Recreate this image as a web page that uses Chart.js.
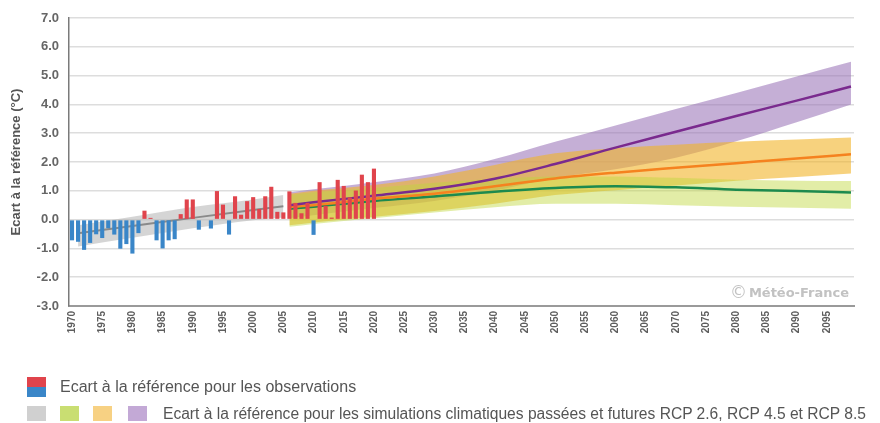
<!DOCTYPE html>
<html lang="fr">
<head>
<meta charset="utf-8">
<title>Ecart à la référence</title>
<script src="https://cdn.jsdelivr.net/npm/chart.js@4.4.1/dist/chart.umd.min.js"></script>
<style>
  html, body { margin: 0; padding: 0; background: #fff; }
  #cadre { position: relative; width: 880px; height: 423px; overflow: hidden; }
  #graphe { position: absolute; left: 0; top: 0; }
  .ligne-leg { position: absolute; left: 0; height: 20px; font-family: 'Liberation Sans', Arial, sans-serif; font-size: 16px; color: #555; white-space: nowrap; }
  .carre { position: absolute; width: 19px; height: 15px; }
  .texte-leg { position: absolute; top: 0; line-height: 20px; }
</style>
</head>
<body>
<div id="cadre">
  <canvas id="graphe" width="880" height="423"></canvas>

  <div class="ligne-leg" style="top:377px;">
    <div class="carre" style="left:27px; top:0; height:10px; background:#e0444c;"></div>
    <div class="carre" style="left:27px; top:10px; height:10px; background:#3a86c8;"></div>
    <div class="texte-leg" style="left:60px;">Ecart à la référence pour les observations</div>
  </div>
  <div class="ligne-leg" style="top:404px; font-size:15.6px;">
    <div class="carre" style="left:27px; top:2px; background:#d0d0d0;"></div>
    <div class="carre" style="left:60px; top:2px; background:#c9de72;"></div>
    <div class="carre" style="left:93px; top:2px; background:#f7d183;"></div>
    <div class="carre" style="left:128px; top:2px; background:#c3a9d6;"></div>
    <div class="texte-leg" style="left:163px;">Ecart à la référence pour les simulations climatiques passées et futures RCP 2.6, RCP 4.5 et RCP 8.5</div>
  </div>
</div>

<script>
// axe des années : 1970 -> 2099
const annees = [];
for (let a = 1970; a <= 2099; a++) annees.push(a);

// observations 1970-2020 (écart en °C)
const ecartObs = [
  -0.72, -0.77, -1.05, -0.81, -0.51, -0.64, -0.30, -0.52, -1.01, -0.85,
  -1.18, -0.47,  0.31,  0.06, -0.72, -1.00, -0.72, -0.68,  0.19,  0.70,
   0.70, -0.35,  0.00, -0.31,  0.99,  0.52, -0.52,  0.81,  0.17,  0.64,
   0.78,  0.37,  0.81,  1.14,  0.27,  0.25,  0.98,  0.58,  0.22,  0.58,
  -0.53,  1.30,  0.48,  0.07,  1.38,  1.17,  0.77,  1.01,  1.56,  1.30,
   1.77
];

// simulations passées (enveloppe grise)
const anneesHist = [1971, 1980, 1990, 2000, 2005];
const histMed  = [-0.47, -0.22, 0.06, 0.33, 0.46];
const histHaut = [-0.20,  0.10, 0.44, 0.70, 0.85];
const histBas  = [-0.93, -0.63, -0.30, -0.02, 0.07];

// simulations futures
const anneesSim = [2006, 2010, 2020, 2030, 2040, 2050, 2060, 2070, 2080, 2090, 2099];
const rcp26Med  = [0.38, 0.45, 0.65, 0.80, 0.97, 1.10, 1.16, 1.12, 1.04, 0.99, 0.94];
const rcp26Haut = [0.85, 0.95, 1.10, 1.28, 1.42, 1.50, 1.50, 1.45, 1.38, 1.35, 1.34];
const rcp26Bas  = [-0.25, -0.15, 0.05, 0.25, 0.43, 0.55, 0.55, 0.50, 0.45, 0.41, 0.38];
const rcp45Med  = [0.44, 0.50, 0.72, 0.90, 1.16, 1.43, 1.63, 1.80, 1.96, 2.12, 2.27];
const rcp45Haut = [0.90, 1.00, 1.20, 1.50, 1.90, 2.30, 2.48, 2.60, 2.70, 2.78, 2.85];
const rcp45Bas  = [-0.20, -0.10, 0.10, 0.30, 0.55, 0.85, 1.02, 1.18, 1.35, 1.48, 1.60];
const rcp85Med  = [0.50, 0.60, 0.83, 1.07, 1.42, 1.93, 2.50, 3.05, 3.60, 4.13, 4.62];
const rcp85Haut = [0.95, 1.05, 1.30, 1.60, 2.10, 2.70, 3.27, 3.84, 4.40, 4.97, 5.48];
const rcp85Bas  = [0.05, 0.15, 0.40, 0.65, 1.00, 1.45, 1.75, 2.15, 2.72, 3.38, 4.00];

const ROUGE = '#e0444c';
const BLEU = '#3a86c8';

const pts = (xs, ys) => xs.map((x, i) => ({ x: x, y: ys[i] }));

function bande(xs, haut, bas, couleur, ordre) {
    return [
        { type: 'line', data: pts(xs, haut), backgroundColor: couleur, borderWidth: 0,
          pointRadius: 0, fill: '+1', cubicInterpolationMode: 'monotone', order: ordre },
        { type: 'line', data: pts(xs, bas), borderWidth: 0, pointRadius: 0,
          fill: false, cubicInterpolationMode: 'monotone', order: ordre }
    ];
}

function courbe(xs, ys, couleur, largeur, ordre) {
    return { type: 'line', data: pts(xs, ys), borderColor: couleur, borderWidth: largeur,
             pointRadius: 0, fill: false, cubicInterpolationMode: 'monotone', order: ordre };
}

// filigrane en bas à droite
const filigrane = {
    id: 'filigrane',
    beforeDatasetsDraw(chart) {
        const { ctx, chartArea } = chart;
        ctx.save();
        ctx.fillStyle = '#c2c2c2';
        ctx.textBaseline = 'middle';
        ctx.textAlign = 'right';
        ctx.font = "bold 13px 'DejaVu Sans', sans-serif";
        ctx.fillText('Météo-France', chartArea.right - 5, chartArea.bottom - 12);
        const w = ctx.measureText('Météo-France').width;
        ctx.font = "17px 'DejaVu Sans', sans-serif";
        ctx.fillText('©', chartArea.right - 7 - w, chartArea.bottom - 12);
        ctx.restore();
    }
};

new Chart(document.getElementById('graphe'), {
    type: 'bar',
    data: {
        labels: annees,
        datasets: [
            { type: 'bar', data: ecartObs, backgroundColor: ecartObs.map(v => v >= 0 ? ROUGE : BLEU),
              categoryPercentage: 1, barPercentage: 0.68, order: 0 },
            courbe(anneesSim, rcp85Med, '#7a2a8e', 2.5, 1),
            courbe(anneesSim, rcp45Med, '#f5821f', 2.5, 2),
            courbe(anneesSim, rcp26Med, '#1d8a4e', 2.5, 3),
            courbe(anneesHist, histMed, '#8a8a8a', 2, 4),
            ...bande(anneesHist, histHaut, histBas, 'rgba(185, 185, 185, 0.6)', 11),
            ...bande(anneesSim, rcp26Haut, rcp26Bas, 'rgba(190, 215, 60, 0.45)', 12),
            ...bande(anneesSim, rcp45Haut, rcp45Bas, 'rgba(242, 180, 40, 0.6)', 13),
            ...bande(anneesSim, rcp85Haut, rcp85Bas, 'rgba(150, 110, 180, 0.55)', 14)
        ]
    },
    options: {
        responsive: false,
        animation: false,
        layout: { padding: { top: 18, right: 26, left: 0, bottom: 0 } },
        plugins: { legend: { display: false }, tooltip: { enabled: false } },
        scales: {
            x: {
                offset: true,
                grid: { display: true, drawOnChartArea: false, drawTicks: false },
                border: { color: '#9a9a9a', width: 2 },
                ticks: {
                    autoSkip: false, maxRotation: 90, minRotation: 90, padding: 5,
                    color: '#5e5e5e',
                    font: { family: "'Liberation Sans Narrow', 'Liberation Sans', sans-serif", size: 10, weight: 'bold' },
                    callback(v) {
                        const a = this.getLabelForValue(v);
                        return a % 5 === 0 ? String(a) : '';
                    }
                },
                afterFit(s) { s.height = 117; }
            },
            y: {
                min: -3, max: 7,
                ticks: {
                    stepSize: 1, padding: 10, color: '#666',
                    font: { family: "'Liberation Sans', Arial, sans-serif", size: 13, weight: 'bold' },
                    callback: v => v.toFixed(1)
                },
                grid: { color: '#dddddd', lineWidth: 1.5, drawTicks: false },
                border: { color: '#7a7a7a', width: 1.5 },
                title: {
                    display: true, text: 'Ecart à la référence (°C)', color: '#555',
                    font: { family: "'Liberation Sans', Arial, sans-serif", size: 13, weight: 'bold' },
                    padding: { top: 9, bottom: 0 }
                },
                afterFit(s) { s.width = 69; }
            }
        }
    },
    plugins: [filigrane]
});
</script>
</body>
</html>
